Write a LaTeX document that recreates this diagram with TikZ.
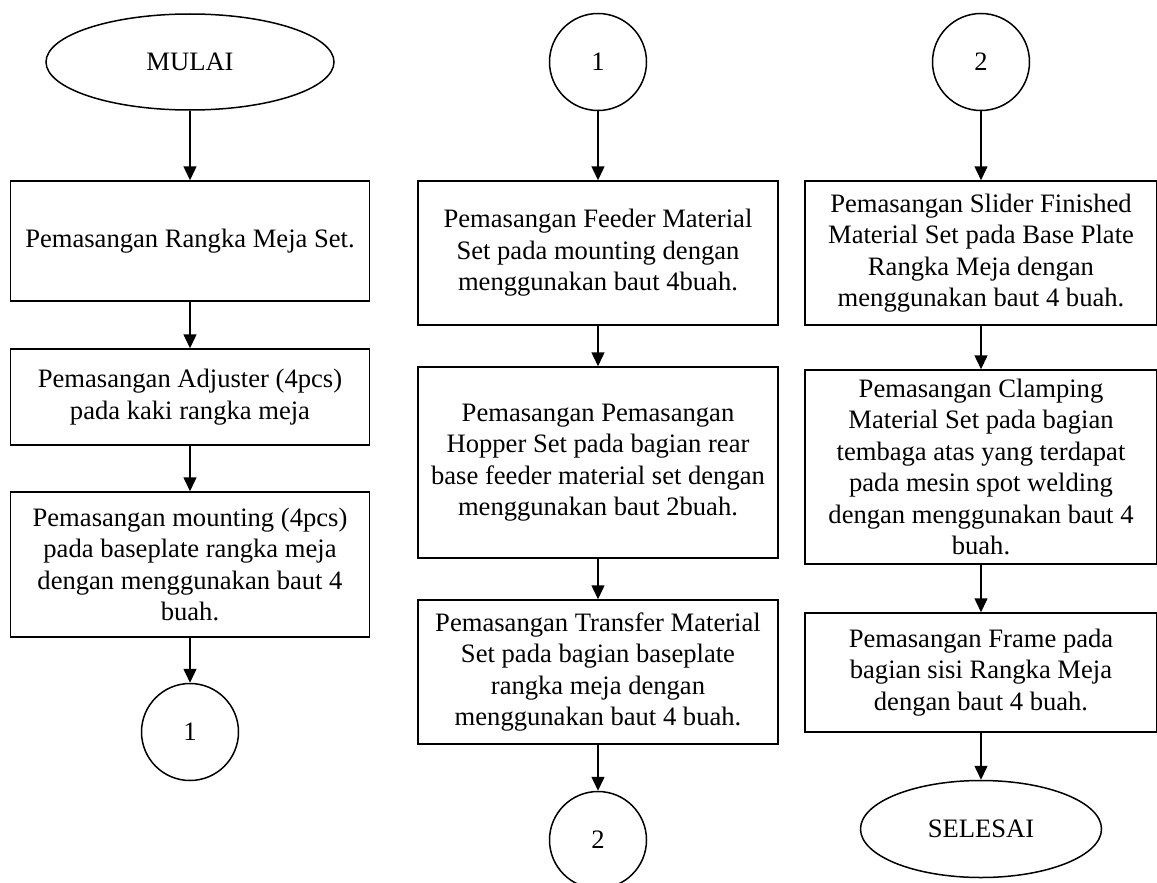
\documentclass[tikz,border=0pt]{standalone}
\usepackage{fontspec}
\setmainfont{Liberation Serif}
\usetikzlibrary{shapes.geometric}
\usetikzlibrary{arrows.meta}
\tikzset{
  proses/.style={draw, rectangle, align=center, inner sep=0pt},
  konektor/.style={draw, circle, minimum size=97pt, inner sep=0pt},
  terminal/.style={draw, ellipse, inner sep=0pt},
  panah/.style={-{Triangle[length=14pt,width=13pt]}}
}

\begin{document}
\begin{tikzpicture}[x=1pt, y=-1pt, line width=1.5pt, font=\fontsize{26.6}{31.5}\selectfont]
\useasboundingbox (0,0) rectangle (1157,883);
% kolom kiri
\node[terminal, minimum width=288pt, minimum height=96pt] (mulai) at (190,62) {MULAI};
\node[proses, minimum width=359pt, minimum height=120pt] (rangka) at (190,241) {Pemasangan Rangka Meja Set.};
\node[proses, minimum width=359pt, minimum height=96pt] (adjuster) at (190,397) {Pemasangan Adjuster (4pcs)\\pada kaki rangka meja};
\node[proses, minimum width=359pt, minimum height=145pt] (mounting) at (190,564.5) {Pemasangan mounting (4pcs)\\pada baseplate rangka meja\\dengan menggunakan baut 4\\buah.};
\node[konektor] (satuA) at (190,732) {1};
\draw[panah] (mulai) -- (rangka);
\draw[panah] (rangka) -- (adjuster);
\draw[panah] (adjuster) -- (mounting);
\draw[panah] (mounting) -- (satuA);
% kolom tengah
\node[konektor] (satuB) at (598,62) {1};
\node[proses, minimum width=360pt, minimum height=144pt] (feeder) at (598,253) {Pemasangan Feeder Material\\Set pada mounting dengan\\menggunakan baut 4buah.};
\node[proses, minimum width=360pt, minimum height=191pt] (hopper) at (598,462.5) {Pemasangan Pemasangan\\Hopper Set pada bagian rear\\base feeder material set dengan\\menggunakan baut 2buah.};
\node[proses, minimum width=360pt, minimum height=144pt] (transfer) at (598,672) {Pemasangan Transfer Material\\Set pada bagian baseplate\\rangka meja dengan\\menggunakan baut 4 buah.};
\node[konektor] (duaA) at (598,840) {2};
\draw[panah] (satuB) -- (feeder);
\draw[panah] (feeder) -- (hopper);
\draw[panah] (hopper) -- (transfer);
\draw[panah] (transfer) -- (duaA);
% kolom kanan
\node[konektor] (duaB) at (981,62) {2};
\node[proses, minimum width=352pt, minimum height=144pt] (slider) at (981,253) {Pemasangan Slider Finished\\Material Set pada Base Plate\\Rangka Meja dengan\\menggunakan baut 4 buah.};
\node[proses, minimum width=352pt, minimum height=194pt] (clamping) at (981,467) {Pemasangan Clamping\\Material Set pada bagian\\tembaga atas yang terdapat\\pada mesin spot welding\\dengan menggunakan baut 4\\buah.};
\node[proses, minimum width=352pt, minimum height=119pt] (frame) at (981,672.5) {Pemasangan Frame pada\\bagian sisi Rangka Meja\\dengan baut 4 buah.};
\node[terminal, minimum width=241pt, minimum height=97pt] (selesai) at (981,829) {SELESAI};
\draw[panah] (duaB) -- (slider);
\draw[panah] (slider) -- (clamping);
\draw[panah] (clamping) -- (frame);
\draw[panah] (frame) -- (selesai);
\end{tikzpicture}
\end{document}
